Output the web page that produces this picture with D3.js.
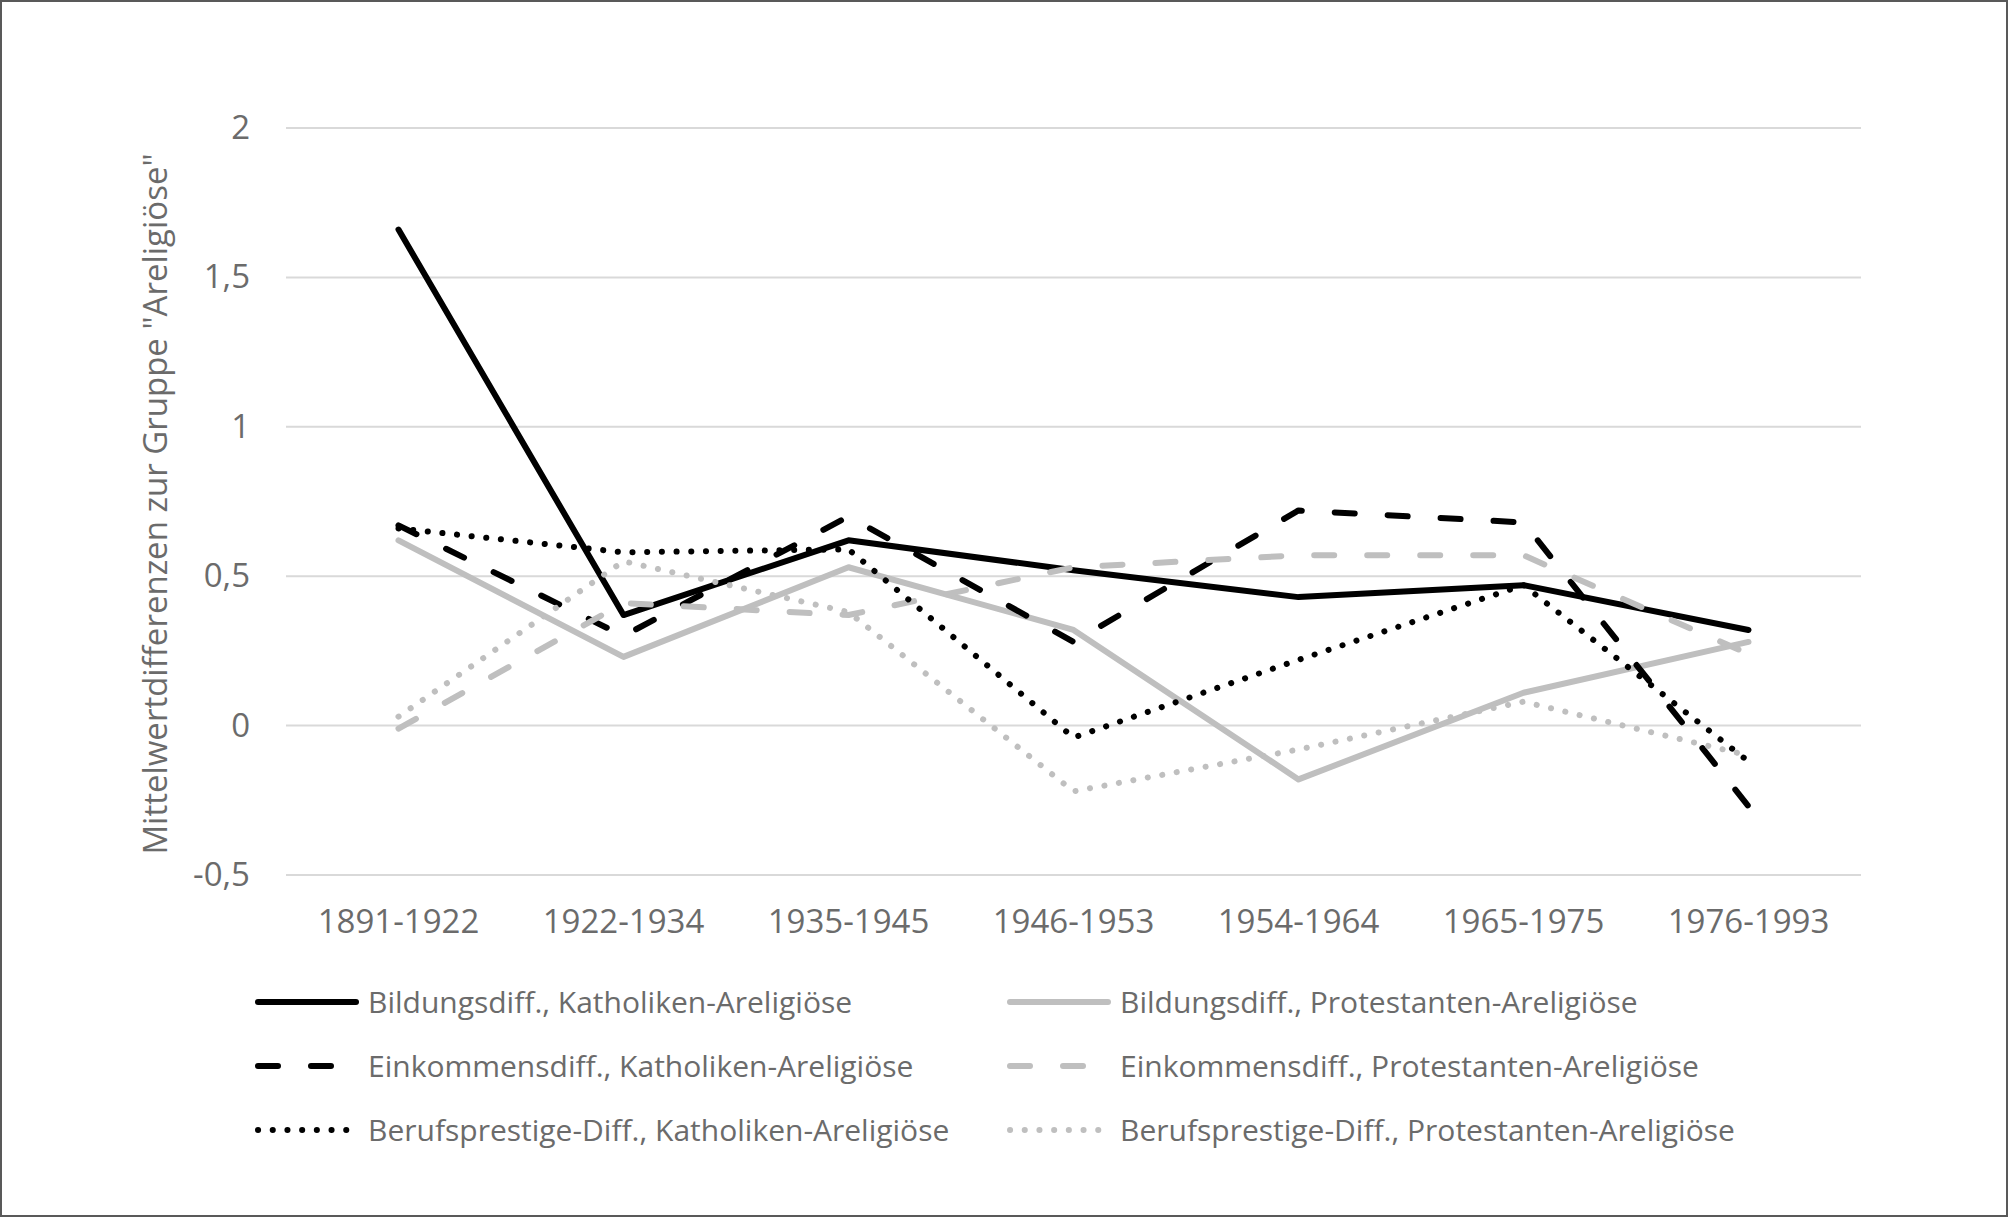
<!DOCTYPE html>
<html>
<head>
<meta charset="utf-8">
<script src="https://cdn.jsdelivr.net/npm/d3@7"></script>
<style>
  body { margin: 0; background: #fff; }
  #chart { width: 2008px; height: 1217px; }
  .axis text { font-family: "Open Sans", sans-serif; fill: #6b6b6b; }
  .axis path, .axis line { display: none; }
</style>
</head>
<body>
<div id="chart"></div>
<script>

var categories = ["1891-1922", "1922-1934", "1935-1945", "1946-1953", "1954-1964", "1965-1975", "1976-1993"];
var yTicks = [-0.5, 0, 0.5, 1, 1.5, 2];

var bildungKath = [1.66, 0.37, 0.62, 0.52, 0.43, 0.47, 0.32];
var bildungProt = [0.62, 0.23, 0.53, 0.32, -0.18, 0.11, 0.28];
var einkommenKath = [0.67, 0.30, 0.70, 0.28, 0.72, 0.68, -0.27];
var einkommenProt = [-0.01, 0.41, 0.37, 0.53, 0.57, 0.57, 0.24];
var berufKath = [0.66, 0.58, 0.59, -0.04, 0.22, 0.47, -0.12];
var berufProt = [0.03, 0.55, 0.38, -0.22, -0.08, 0.08, -0.10];

var seriesNames = [
    "Bildungsdiff., Katholiken-Areligiöse",
    "Bildungsdiff., Protestanten-Areligiöse",
    "Einkommensdiff., Katholiken-Areligiöse",
    "Einkommensdiff., Protestanten-Areligiöse",
    "Berufsprestige-Diff., Katholiken-Areligiöse",
    "Berufsprestige-Diff., Protestanten-Areligiöse"
];

var black = "#000000", grey = "#bfbfbf";
var series = [
    {name: seriesNames[0], values: bildungKath, color: black, dash: null},
    {name: seriesNames[1], values: bildungProt, color: grey, dash: null},
    {name: seriesNames[2], values: einkommenKath, color: black, dash: "20,33"},
    {name: seriesNames[3], values: einkommenProt, color: grey, dash: "20,33"},
    {name: seriesNames[4], values: berufKath, color: black, dash: "0.1,14.6"},
    {name: seriesNames[5], values: berufProt, color: grey, dash: "0.1,14.6"}
];

var width = 2008;
var height = 1217;
var margin = {top: 128, left: 286, right: 147, bottom: 342};

var svg = d3.select("#chart")
    .append("svg")
    .attr("width", width)
    .attr("height", height);

// outer frame
svg.append("rect")
    .attr("x", 1).attr("y", 1)
    .attr("width", width - 2).attr("height", height - 2)
    .attr("fill", "#fff")
    .attr("stroke", "#595959")
    .attr("stroke-width", 2);

var xScale = d3.scaleBand()
    .domain(categories)
    .range([margin.left, width - margin.right]);

var yScale = d3.scaleLinear()
    .domain([-0.5, 2])
    .range([height - margin.bottom, margin.top]);

var fmt = function(d) { return String(d).replace(".", ","); };

// gridlines
svg.append("g")
    .selectAll("line")
    .data(yTicks)
    .enter()
    .append("line")
    .attr("x1", margin.left)
    .attr("x2", width - margin.right)
    .attr("y1", function(d) { return yScale(d); })
    .attr("y2", function(d) { return yScale(d); })
    .attr("stroke", "#d9d9d9")
    .attr("stroke-width", 2);

var yAxis = svg.append("g")
    .attr("class", "axis")
    .attr("transform", `translate(${margin.left - 36},0)`)
    .call(d3.axisLeft(yScale).tickValues(yTicks).tickFormat(fmt).tickSize(0).tickPadding(0));
yAxis.selectAll("text").style("font-size", "33px");

var xAxis = svg.append("g")
    .attr("class", "axis")
    .attr("transform", `translate(0,${height - margin.bottom})`)
    .call(d3.axisBottom(xScale).tickSize(0).tickPadding(35));
xAxis.selectAll("text").style("font-size", "33px");

svg.append("text")
    .attr("transform", "rotate(-90)")
    .attr("x", -504)
    .attr("y", 167)
    .attr("text-anchor", "middle")
    .style("font-family", "Open Sans, sans-serif")
    .style("font-size", "33px")
    .style("fill", "#6b6b6b")
    .text("Mittelwertdifferenzen zur Gruppe \"Areligiöse\"");

var line = d3.line()
    .x(function(d, i) { return xScale(categories[i]) + xScale.bandwidth() / 2; })
    .y(function(d) { return yScale(d); });

svg.append("g")
    .selectAll("path")
    .data(series)
    .enter()
    .append("path")
    .attr("d", function(d) { return line(d.values); })
    .attr("fill", "none")
    .attr("stroke", function(d) { return d.color; })
    .attr("stroke-width", 6)
    .attr("stroke-linejoin", "round")
    .attr("stroke-linecap", "round")
    .attr("stroke-dasharray", function(d) { return d.dash; });

// legend, two columns x three rows
var legendX = [258, 1010];
var legendY = [1002, 1066, 1130];

var legend = svg.append("g")
    .selectAll("g")
    .data(series)
    .enter()
    .append("g")
    .attr("transform", function(d, i) {
        return `translate(${legendX[i % 2]},${legendY[Math.floor(i / 2)]})`;
    });

legend.append("line")
    .attr("x1", 0)
    .attr("x2", 98)
    .attr("y1", 0)
    .attr("y2", 0)
    .attr("stroke", function(d) { return d.color; })
    .attr("stroke-width", 6)
    .attr("stroke-linecap", "round")
    .attr("stroke-dasharray", function(d) { return d.dash; });

legend.append("text")
    .attr("x", 110)
    .attr("y", 0)
    .attr("dy", "0.35em")
    .style("font-family", "Open Sans, sans-serif")
    .style("font-size", "30px")
    .style("fill", "#6b6b6b")
    .text(function(d) { return d.name; });

</script>
</body>
</html>
